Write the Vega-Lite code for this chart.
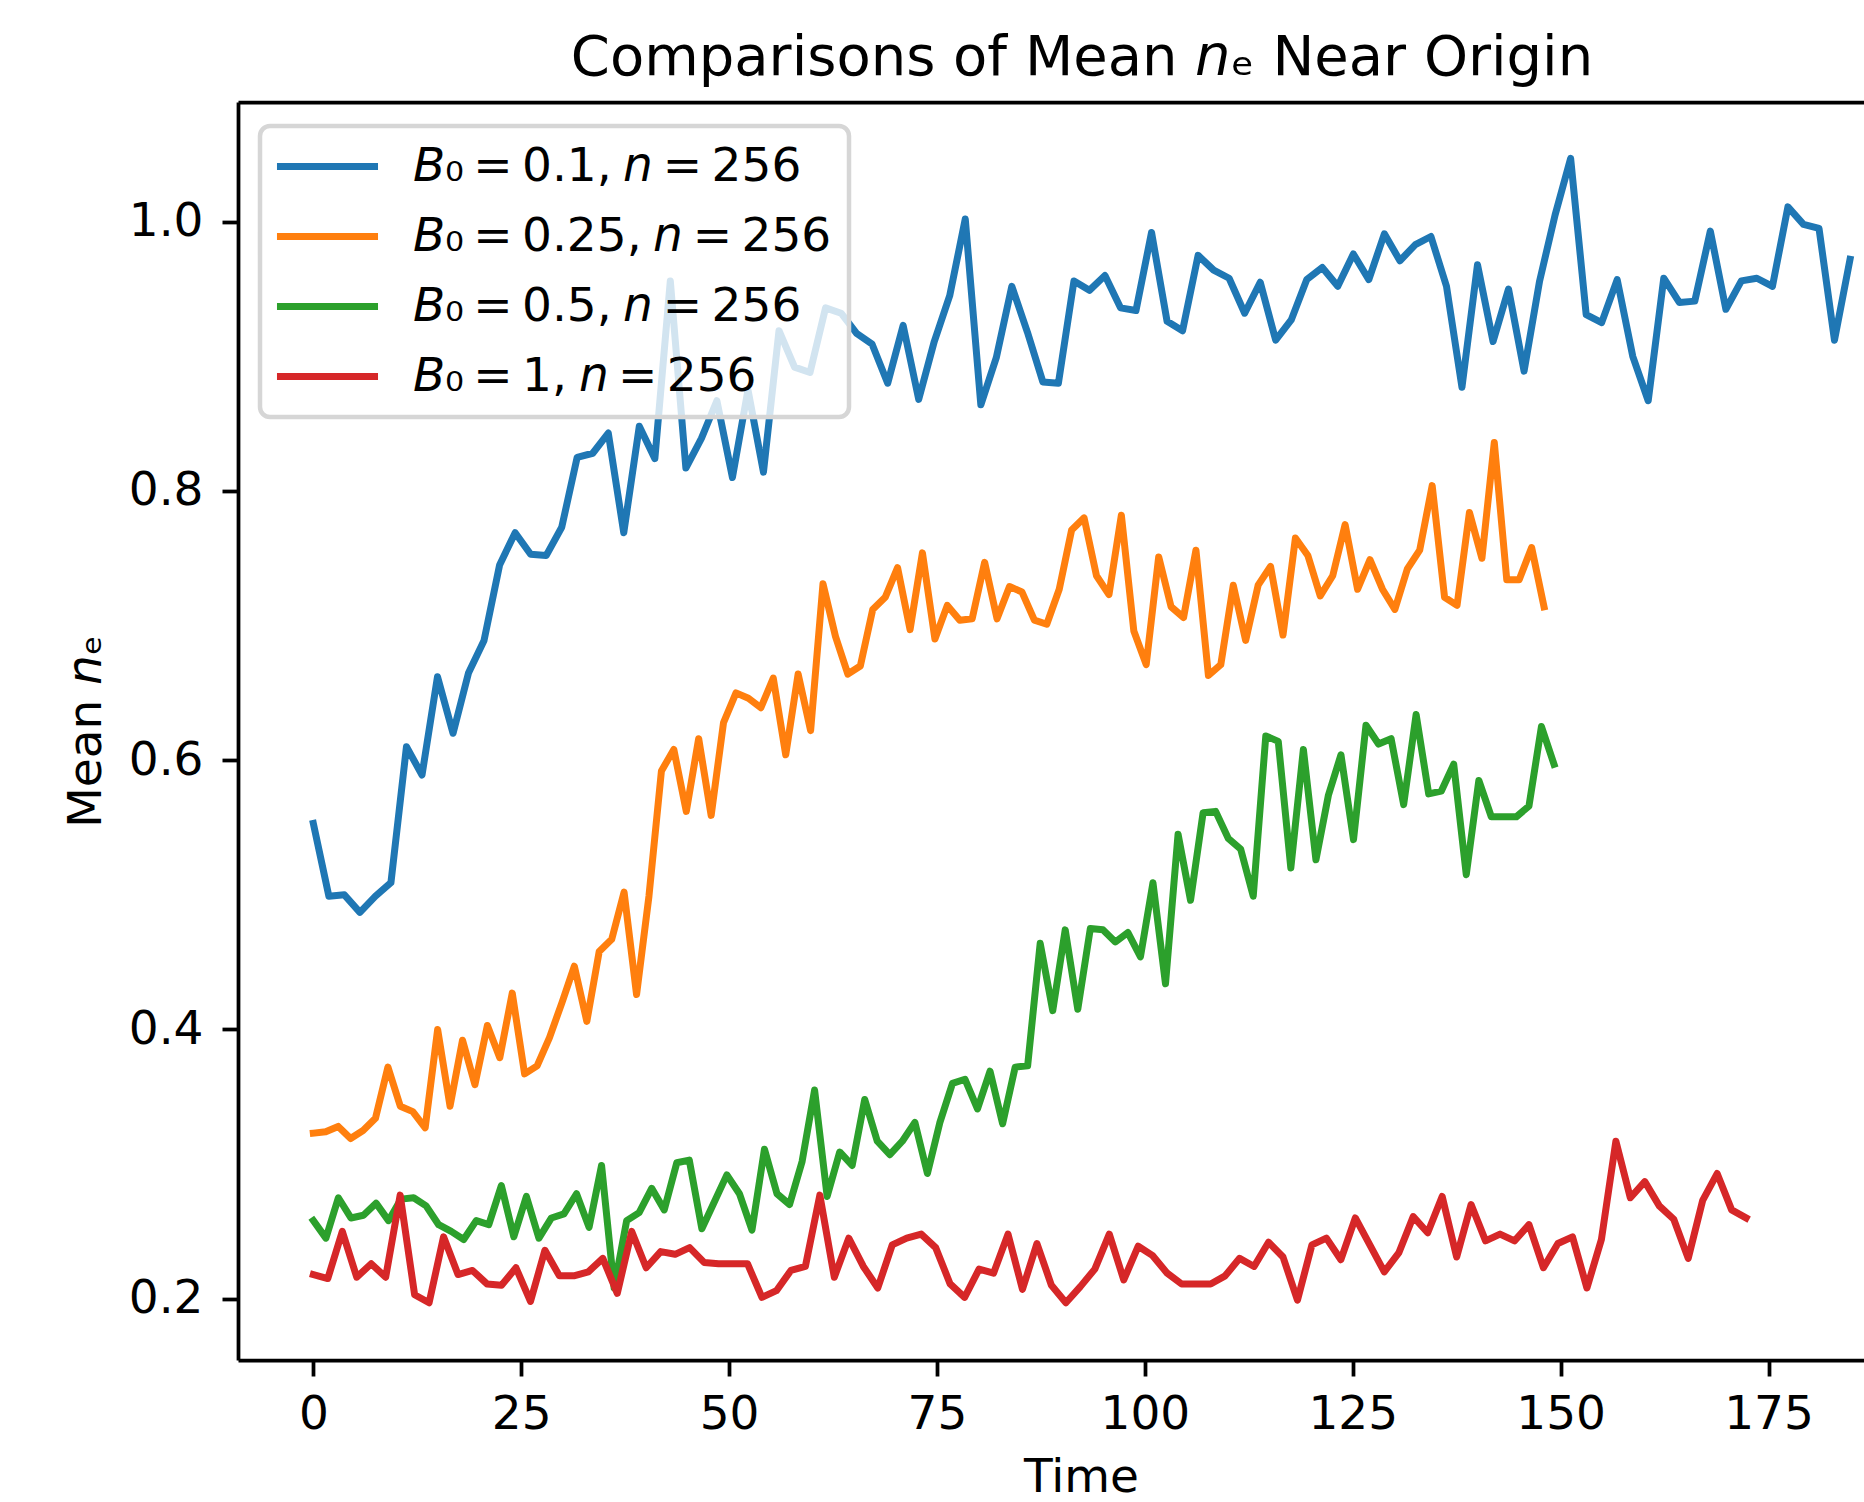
{
  "$schema": "https://vega.github.io/schema/vega-lite/v6.json",
  "width": 1626,
  "height": 1258,
  "autosize": {"type": "none"},
  "padding": {"left": 238, "top": 102, "right": 0, "bottom": 142},
  "background": "white",
  "config": {
    "view": {"stroke": null},
    "font": "DejaVu Sans",
    "axis": {
      "grid": false,
      "domainColor": "black",
      "domainWidth": 3.75,
      "tickColor": "black",
      "tickWidth": 3.75,
      "tickSize": 16,
      "labelFont": "DejaVu Sans",
      "labelFontSize": 47,
      "labelColor": "black",
      "titleFont": "DejaVu Sans",
      "titleFontSize": 47,
      "titleFontWeight": "normal",
      "titleColor": "black"
    }
  },
  "title": {
    "text": "Comparisons of Mean 𝘯ₑ Near Origin",
    "font": "DejaVu Sans",
    "fontSize": 56,
    "fontWeight": "normal",
    "color": "black",
    "anchor": "middle",
    "frame": "group",
    "dx": 31,
    "dy": 54,
    "baseline": "alphabetic",
    "offset": 25
  },
  "data": {"values": [
    {"B":"0.1","t":0,"v":0.553},{"B":"0.1","t":1.87,"v":0.499},{"B":"0.1","t":3.73,"v":0.5},{"B":"0.1","t":5.6,"v":0.487},{"B":"0.1","t":7.47,"v":0.499},{"B":"0.1","t":9.33,"v":0.509},{"B":"0.1","t":11.2,"v":0.61},{"B":"0.1","t":13.07,"v":0.589},{"B":"0.1","t":14.93,"v":0.662},{"B":"0.1","t":16.8,"v":0.62},
    {"B":"0.1","t":18.67,"v":0.665},{"B":"0.1","t":20.53,"v":0.689},{"B":"0.1","t":22.4,"v":0.745},{"B":"0.1","t":24.27,"v":0.769},{"B":"0.1","t":26.13,"v":0.753},{"B":"0.1","t":28,"v":0.752},{"B":"0.1","t":29.87,"v":0.773},{"B":"0.1","t":31.73,"v":0.825},{"B":"0.1","t":33.6,"v":0.828},{"B":"0.1","t":35.47,"v":0.843},
    {"B":"0.1","t":37.33,"v":0.769},{"B":"0.1","t":39.2,"v":0.848},{"B":"0.1","t":41.07,"v":0.824},{"B":"0.1","t":42.93,"v":0.956},{"B":"0.1","t":44.8,"v":0.817},{"B":"0.1","t":46.67,"v":0.839},{"B":"0.1","t":48.53,"v":0.867},{"B":"0.1","t":50.4,"v":0.81},{"B":"0.1","t":52.27,"v":0.875},{"B":"0.1","t":54.13,"v":0.814},
    {"B":"0.1","t":56,"v":0.919},{"B":"0.1","t":57.87,"v":0.892},{"B":"0.1","t":59.73,"v":0.888},{"B":"0.1","t":61.6,"v":0.936},{"B":"0.1","t":63.47,"v":0.932},{"B":"0.1","t":65.33,"v":0.917},{"B":"0.1","t":67.2,"v":0.909},{"B":"0.1","t":69.07,"v":0.88},{"B":"0.1","t":70.93,"v":0.923},{"B":"0.1","t":72.8,"v":0.868},
    {"B":"0.1","t":74.67,"v":0.911},{"B":"0.1","t":76.53,"v":0.945},{"B":"0.1","t":78.4,"v":1.002},{"B":"0.1","t":80.27,"v":0.864},{"B":"0.1","t":82.13,"v":0.899},{"B":"0.1","t":84,"v":0.952},{"B":"0.1","t":85.87,"v":0.918},{"B":"0.1","t":87.73,"v":0.881},{"B":"0.1","t":89.6,"v":0.88},{"B":"0.1","t":91.47,"v":0.956},
    {"B":"0.1","t":93.33,"v":0.949},{"B":"0.1","t":95.2,"v":0.96},{"B":"0.1","t":97.07,"v":0.936},{"B":"0.1","t":98.93,"v":0.934},{"B":"0.1","t":100.8,"v":0.992},{"B":"0.1","t":102.67,"v":0.926},{"B":"0.1","t":104.53,"v":0.919},{"B":"0.1","t":106.4,"v":0.975},{"B":"0.1","t":108.27,"v":0.964},{"B":"0.1","t":110.13,"v":0.958},
    {"B":"0.1","t":112,"v":0.932},{"B":"0.1","t":113.87,"v":0.955},{"B":"0.1","t":115.73,"v":0.912},{"B":"0.1","t":117.6,"v":0.927},{"B":"0.1","t":119.47,"v":0.957},{"B":"0.1","t":121.33,"v":0.966},{"B":"0.1","t":123.2,"v":0.952},{"B":"0.1","t":125.07,"v":0.976},{"B":"0.1","t":126.93,"v":0.957},{"B":"0.1","t":128.8,"v":0.991},
    {"B":"0.1","t":130.67,"v":0.971},{"B":"0.1","t":132.53,"v":0.983},{"B":"0.1","t":134.4,"v":0.989},{"B":"0.1","t":136.27,"v":0.952},{"B":"0.1","t":138.13,"v":0.877},{"B":"0.1","t":140,"v":0.968},{"B":"0.1","t":141.87,"v":0.911},{"B":"0.1","t":143.73,"v":0.95},{"B":"0.1","t":145.6,"v":0.889},{"B":"0.1","t":147.47,"v":0.956},
    {"B":"0.1","t":149.33,"v":1.005},{"B":"0.1","t":151.2,"v":1.047},{"B":"0.1","t":153.07,"v":0.931},{"B":"0.1","t":154.93,"v":0.925},{"B":"0.1","t":156.8,"v":0.957},{"B":"0.1","t":158.67,"v":0.9},{"B":"0.1","t":160.53,"v":0.867},{"B":"0.1","t":162.4,"v":0.958},{"B":"0.1","t":164.27,"v":0.94},{"B":"0.1","t":166.13,"v":0.941},
    {"B":"0.1","t":168,"v":0.993},{"B":"0.1","t":169.87,"v":0.935},{"B":"0.1","t":171.73,"v":0.956},{"B":"0.1","t":173.6,"v":0.958},{"B":"0.1","t":175.47,"v":0.952},{"B":"0.1","t":177.33,"v":1.011},{"B":"0.1","t":179.2,"v":0.998},{"B":"0.1","t":181.07,"v":0.995},{"B":"0.1","t":182.93,"v":0.912},{"B":"0.1","t":184.8,"v":0.972},

    {"B":"0.25","t":0,"v":0.323},{"B":"0.25","t":1.49,"v":0.324},{"B":"0.25","t":2.99,"v":0.328},{"B":"0.25","t":4.48,"v":0.319},{"B":"0.25","t":5.98,"v":0.325},{"B":"0.25","t":7.47,"v":0.334},{"B":"0.25","t":8.97,"v":0.372},{"B":"0.25","t":10.46,"v":0.343},{"B":"0.25","t":11.96,"v":0.339},{"B":"0.25","t":13.45,"v":0.327},
    {"B":"0.25","t":14.95,"v":0.4},{"B":"0.25","t":16.44,"v":0.343},{"B":"0.25","t":17.94,"v":0.392},{"B":"0.25","t":19.43,"v":0.359},{"B":"0.25","t":20.93,"v":0.403},{"B":"0.25","t":22.42,"v":0.379},{"B":"0.25","t":23.92,"v":0.427},{"B":"0.25","t":25.41,"v":0.367},{"B":"0.25","t":26.91,"v":0.373},{"B":"0.25","t":28.4,"v":0.394},
    {"B":"0.25","t":29.9,"v":0.42},{"B":"0.25","t":31.39,"v":0.447},{"B":"0.25","t":32.89,"v":0.406},{"B":"0.25","t":34.38,"v":0.458},{"B":"0.25","t":35.88,"v":0.467},{"B":"0.25","t":37.37,"v":0.502},{"B":"0.25","t":38.87,"v":0.426},{"B":"0.25","t":40.36,"v":0.499},{"B":"0.25","t":41.86,"v":0.592},{"B":"0.25","t":43.35,"v":0.608},
    {"B":"0.25","t":44.85,"v":0.562},{"B":"0.25","t":46.34,"v":0.616},{"B":"0.25","t":47.84,"v":0.559},{"B":"0.25","t":49.33,"v":0.628},{"B":"0.25","t":50.83,"v":0.65},{"B":"0.25","t":52.32,"v":0.646},{"B":"0.25","t":53.82,"v":0.639},{"B":"0.25","t":55.31,"v":0.661},{"B":"0.25","t":56.81,"v":0.604},{"B":"0.25","t":58.3,"v":0.664},
    {"B":"0.25","t":59.8,"v":0.622},{"B":"0.25","t":61.29,"v":0.731},{"B":"0.25","t":62.79,"v":0.692},{"B":"0.25","t":64.28,"v":0.664},{"B":"0.25","t":65.78,"v":0.67},{"B":"0.25","t":67.27,"v":0.712},{"B":"0.25","t":68.77,"v":0.721},{"B":"0.25","t":70.26,"v":0.743},{"B":"0.25","t":71.76,"v":0.697},{"B":"0.25","t":73.25,"v":0.754},
    {"B":"0.25","t":74.75,"v":0.69},{"B":"0.25","t":76.24,"v":0.715},{"B":"0.25","t":77.74,"v":0.704},{"B":"0.25","t":79.23,"v":0.705},{"B":"0.25","t":80.73,"v":0.747},{"B":"0.25","t":82.22,"v":0.705},{"B":"0.25","t":83.72,"v":0.729},{"B":"0.25","t":85.21,"v":0.725},{"B":"0.25","t":86.71,"v":0.704},{"B":"0.25","t":88.2,"v":0.701},
    {"B":"0.25","t":89.7,"v":0.727},{"B":"0.25","t":91.19,"v":0.771},{"B":"0.25","t":92.69,"v":0.78},{"B":"0.25","t":94.18,"v":0.737},{"B":"0.25","t":95.68,"v":0.723},{"B":"0.25","t":97.17,"v":0.782},{"B":"0.25","t":98.67,"v":0.696},{"B":"0.25","t":100.16,"v":0.671},{"B":"0.25","t":101.66,"v":0.751},{"B":"0.25","t":103.15,"v":0.714},
    {"B":"0.25","t":104.65,"v":0.706},{"B":"0.25","t":106.14,"v":0.756},{"B":"0.25","t":107.64,"v":0.663},{"B":"0.25","t":109.13,"v":0.671},{"B":"0.25","t":110.63,"v":0.73},{"B":"0.25","t":112.12,"v":0.689},{"B":"0.25","t":113.62,"v":0.73},{"B":"0.25","t":115.11,"v":0.744},{"B":"0.25","t":116.61,"v":0.693},{"B":"0.25","t":118.1,"v":0.765},
    {"B":"0.25","t":119.6,"v":0.752},{"B":"0.25","t":121.09,"v":0.722},{"B":"0.25","t":122.59,"v":0.737},{"B":"0.25","t":124.08,"v":0.775},{"B":"0.25","t":125.58,"v":0.727},{"B":"0.25","t":127.07,"v":0.749},{"B":"0.25","t":128.57,"v":0.727},{"B":"0.25","t":130.06,"v":0.712},{"B":"0.25","t":131.56,"v":0.742},{"B":"0.25","t":133.05,"v":0.756},
    {"B":"0.25","t":134.55,"v":0.804},{"B":"0.25","t":136.04,"v":0.721},{"B":"0.25","t":137.54,"v":0.715},{"B":"0.25","t":139.03,"v":0.784},{"B":"0.25","t":140.53,"v":0.75},{"B":"0.25","t":142.02,"v":0.836},{"B":"0.25","t":143.52,"v":0.734},{"B":"0.25","t":145.01,"v":0.734},{"B":"0.25","t":146.51,"v":0.758},{"B":"0.25","t":148,"v":0.714},

    {"B":"0.5","t":0,"v":0.258},{"B":"0.5","t":1.51,"v":0.245},{"B":"0.5","t":3.01,"v":0.275},{"B":"0.5","t":4.52,"v":0.26},{"B":"0.5","t":6.03,"v":0.262},{"B":"0.5","t":7.54,"v":0.271},{"B":"0.5","t":9.04,"v":0.258},{"B":"0.5","t":10.55,"v":0.274},{"B":"0.5","t":12.06,"v":0.275},{"B":"0.5","t":13.56,"v":0.269},
    {"B":"0.5","t":15.07,"v":0.255},{"B":"0.5","t":16.58,"v":0.25},{"B":"0.5","t":18.08,"v":0.244},{"B":"0.5","t":19.59,"v":0.258},{"B":"0.5","t":21.1,"v":0.255},{"B":"0.5","t":22.61,"v":0.284},{"B":"0.5","t":24.11,"v":0.246},{"B":"0.5","t":25.62,"v":0.276},{"B":"0.5","t":27.13,"v":0.245},{"B":"0.5","t":28.63,"v":0.26},
    {"B":"0.5","t":30.14,"v":0.263},{"B":"0.5","t":31.65,"v":0.278},{"B":"0.5","t":33.16,"v":0.253},{"B":"0.5","t":34.66,"v":0.299},{"B":"0.5","t":36.17,"v":0.208},{"B":"0.5","t":37.68,"v":0.258},{"B":"0.5","t":39.18,"v":0.264},{"B":"0.5","t":40.69,"v":0.282},{"B":"0.5","t":42.2,"v":0.266},{"B":"0.5","t":43.71,"v":0.301},
    {"B":"0.5","t":45.21,"v":0.303},{"B":"0.5","t":46.72,"v":0.252},{"B":"0.5","t":48.23,"v":0.272},{"B":"0.5","t":49.73,"v":0.292},{"B":"0.5","t":51.24,"v":0.278},{"B":"0.5","t":52.75,"v":0.251},{"B":"0.5","t":54.25,"v":0.311},{"B":"0.5","t":55.76,"v":0.278},{"B":"0.5","t":57.27,"v":0.27},{"B":"0.5","t":58.78,"v":0.302},
    {"B":"0.5","t":60.28,"v":0.355},{"B":"0.5","t":61.79,"v":0.276},{"B":"0.5","t":63.3,"v":0.309},{"B":"0.5","t":64.8,"v":0.299},{"B":"0.5","t":66.31,"v":0.348},{"B":"0.5","t":67.82,"v":0.317},{"B":"0.5","t":69.33,"v":0.307},{"B":"0.5","t":70.83,"v":0.317},{"B":"0.5","t":72.34,"v":0.331},{"B":"0.5","t":73.85,"v":0.293},
    {"B":"0.5","t":75.35,"v":0.331},{"B":"0.5","t":76.86,"v":0.36},{"B":"0.5","t":78.37,"v":0.363},{"B":"0.5","t":79.87,"v":0.341},{"B":"0.5","t":81.38,"v":0.369},{"B":"0.5","t":82.89,"v":0.33},{"B":"0.5","t":84.4,"v":0.372},{"B":"0.5","t":85.9,"v":0.373},{"B":"0.5","t":87.41,"v":0.464},{"B":"0.5","t":88.92,"v":0.414},
    {"B":"0.5","t":90.42,"v":0.474},{"B":"0.5","t":91.93,"v":0.415},{"B":"0.5","t":93.44,"v":0.475},{"B":"0.5","t":94.95,"v":0.474},{"B":"0.5","t":96.45,"v":0.465},{"B":"0.5","t":97.96,"v":0.472},{"B":"0.5","t":99.47,"v":0.454},{"B":"0.5","t":100.97,"v":0.509},{"B":"0.5","t":102.48,"v":0.434},{"B":"0.5","t":103.99,"v":0.545},
    {"B":"0.5","t":105.49,"v":0.496},{"B":"0.5","t":107,"v":0.561},{"B":"0.5","t":108.51,"v":0.562},{"B":"0.5","t":110.02,"v":0.542},{"B":"0.5","t":111.52,"v":0.534},{"B":"0.5","t":113.03,"v":0.499},{"B":"0.5","t":114.54,"v":0.618},{"B":"0.5","t":116.04,"v":0.614},{"B":"0.5","t":117.55,"v":0.52},{"B":"0.5","t":119.06,"v":0.608},
    {"B":"0.5","t":120.57,"v":0.526},{"B":"0.5","t":122.07,"v":0.574},{"B":"0.5","t":123.58,"v":0.604},{"B":"0.5","t":125.09,"v":0.541},{"B":"0.5","t":126.59,"v":0.626},{"B":"0.5","t":128.1,"v":0.612},{"B":"0.5","t":129.61,"v":0.616},{"B":"0.5","t":131.12,"v":0.567},{"B":"0.5","t":132.62,"v":0.634},{"B":"0.5","t":134.13,"v":0.575},
    {"B":"0.5","t":135.64,"v":0.577},{"B":"0.5","t":137.14,"v":0.597},{"B":"0.5","t":138.65,"v":0.515},{"B":"0.5","t":140.16,"v":0.585},{"B":"0.5","t":141.66,"v":0.558},{"B":"0.5","t":143.17,"v":0.558},{"B":"0.5","t":144.68,"v":0.558},{"B":"0.5","t":146.19,"v":0.566},{"B":"0.5","t":147.69,"v":0.625},{"B":"0.5","t":149.2,"v":0.597},

    {"B":"1","t":0,"v":0.218},{"B":"1","t":1.74,"v":0.215},{"B":"1","t":3.48,"v":0.25},{"B":"1","t":5.22,"v":0.216},{"B":"1","t":6.96,"v":0.226},{"B":"1","t":8.7,"v":0.216},{"B":"1","t":10.44,"v":0.277},{"B":"1","t":12.18,"v":0.203},{"B":"1","t":13.92,"v":0.197},{"B":"1","t":15.66,"v":0.246},
    {"B":"1","t":17.4,"v":0.218},{"B":"1","t":19.14,"v":0.221},{"B":"1","t":20.88,"v":0.211},{"B":"1","t":22.63,"v":0.21},{"B":"1","t":24.37,"v":0.223},{"B":"1","t":26.11,"v":0.198},{"B":"1","t":27.85,"v":0.236},{"B":"1","t":29.59,"v":0.217},{"B":"1","t":31.33,"v":0.217},{"B":"1","t":33.07,"v":0.22},
    {"B":"1","t":34.81,"v":0.23},{"B":"1","t":36.55,"v":0.204},{"B":"1","t":38.29,"v":0.25},{"B":"1","t":40.03,"v":0.223},{"B":"1","t":41.77,"v":0.235},{"B":"1","t":43.51,"v":0.233},{"B":"1","t":45.25,"v":0.238},{"B":"1","t":46.99,"v":0.227},{"B":"1","t":48.73,"v":0.226},{"B":"1","t":50.47,"v":0.226},
    {"B":"1","t":52.21,"v":0.226},{"B":"1","t":53.95,"v":0.201},{"B":"1","t":55.69,"v":0.206},{"B":"1","t":57.43,"v":0.221},{"B":"1","t":59.17,"v":0.224},{"B":"1","t":60.91,"v":0.277},{"B":"1","t":62.65,"v":0.216},{"B":"1","t":64.39,"v":0.245},{"B":"1","t":66.14,"v":0.224},{"B":"1","t":67.88,"v":0.208},
    {"B":"1","t":69.62,"v":0.24},{"B":"1","t":71.36,"v":0.245},{"B":"1","t":73.1,"v":0.248},{"B":"1","t":74.84,"v":0.238},{"B":"1","t":76.58,"v":0.211},{"B":"1","t":78.32,"v":0.201},{"B":"1","t":80.06,"v":0.222},{"B":"1","t":81.8,"v":0.219},{"B":"1","t":83.54,"v":0.248},{"B":"1","t":85.28,"v":0.207},
    {"B":"1","t":87.02,"v":0.241},{"B":"1","t":88.76,"v":0.21},{"B":"1","t":90.5,"v":0.197},{"B":"1","t":92.24,"v":0.209},{"B":"1","t":93.98,"v":0.222},{"B":"1","t":95.72,"v":0.248},{"B":"1","t":97.46,"v":0.214},{"B":"1","t":99.2,"v":0.239},{"B":"1","t":100.94,"v":0.232},{"B":"1","t":102.68,"v":0.219},
    {"B":"1","t":104.42,"v":0.211},{"B":"1","t":106.16,"v":0.211},{"B":"1","t":107.91,"v":0.211},{"B":"1","t":109.65,"v":0.217},{"B":"1","t":111.39,"v":0.23},{"B":"1","t":113.13,"v":0.224},{"B":"1","t":114.87,"v":0.242},{"B":"1","t":116.61,"v":0.231},{"B":"1","t":118.35,"v":0.199},{"B":"1","t":120.09,"v":0.24},
    {"B":"1","t":121.83,"v":0.245},{"B":"1","t":123.57,"v":0.229},{"B":"1","t":125.31,"v":0.26},{"B":"1","t":127.05,"v":0.24},{"B":"1","t":128.79,"v":0.22},{"B":"1","t":130.53,"v":0.234},{"B":"1","t":132.27,"v":0.261},{"B":"1","t":134.01,"v":0.249},{"B":"1","t":135.75,"v":0.276},{"B":"1","t":137.49,"v":0.231},
    {"B":"1","t":139.23,"v":0.27},{"B":"1","t":140.97,"v":0.243},{"B":"1","t":142.71,"v":0.248},{"B":"1","t":144.45,"v":0.243},{"B":"1","t":146.19,"v":0.255},{"B":"1","t":147.93,"v":0.223},{"B":"1","t":149.67,"v":0.241},{"B":"1","t":151.42,"v":0.246},{"B":"1","t":153.16,"v":0.208},{"B":"1","t":154.9,"v":0.244},
    {"B":"1","t":156.64,"v":0.317},{"B":"1","t":158.38,"v":0.275},{"B":"1","t":160.12,"v":0.287},{"B":"1","t":161.86,"v":0.269},{"B":"1","t":163.6,"v":0.259},{"B":"1","t":165.34,"v":0.23},{"B":"1","t":167.08,"v":0.273},{"B":"1","t":168.82,"v":0.293},{"B":"1","t":170.56,"v":0.266},{"B":"1","t":172.3,"v":0.26}
  ]},
  "resolve": {"axis": {"x": "independent"}},
  "layer": [
    {
      "mark": {"type": "line", "strokeWidth": 7, "strokeJoin": "round", "strokeCap": "square"},
      "encoding": {
        "x": {
          "field": "t", "type": "quantitative",
          "scale": {"domain": [-9.06, 186.48], "nice": false, "zero": false},
          "axis": {"values": [0, 25, 50, 75, 100, 125, 150, 175], "title": "Time", "labelPadding": 15, "titlePadding": 17, "titleX": 843, "labelFlush": false}
        },
        "y": {
          "field": "v", "type": "quantitative",
          "scale": {"domain": [0.1545, 1.0889], "nice": false, "zero": false},
          "axis": {"values": [0.2, 0.4, 0.6, 0.8, 1.0], "format": ".1f", "title": "Mean 𝘯ₑ", "labelPadding": 19, "titlePadding": 18, "labelFlush": false}
        },
        "color": {
          "field": "B", "type": "nominal",
          "scale": {"domain": ["0.1", "0.25", "0.5", "1"], "range": ["#1f77b4", "#ff7f0e", "#2ca02c", "#d62728"]},
          "legend": {
            "orient": "none",
            "legendX": 22,
            "legendY": 24,
            "title": null,
            "labelExpr": "'𝘉₀\u2009=\u2009' + datum.label + ',\u2005𝘯\u2009=\u2009256'",
            "labelFont": "DejaVu Sans",
            "labelFontSize": 47,
            "labelColor": "black",
            "labelLimit": 0,
            "symbolType": "M-4,0H4",
            "symbolSize": 638,
            "symbolStrokeWidth": 7,
            "symbolOffset": 27,
            "labelOffset": 62,
            "rowPadding": 22,
            "padding": 17,
            "fillColor": "rgba(255,255,255,0.8)",
            "strokeColor": "#d6d6d6",
            "cornerRadius": 10,
            "encode": {"legend": {"update": {"strokeWidth": {"value": 4.5}}}}
          }
        }
      }
    },
    {
      "mark": {"type": "point", "opacity": 0},
      "encoding": {
        "x": {"field": "t", "type": "quantitative", "axis": {"orient": "top", "labels": false, "ticks": false, "title": null, "domain": true}},
        "y": {"field": "v", "type": "quantitative"}
      }
    }
  ]
}
